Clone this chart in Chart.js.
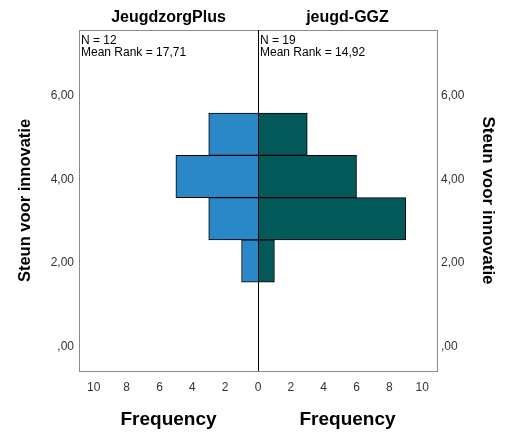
<!DOCTYPE html>
<html>
<head>
<meta charset="utf-8">
<script src="https://cdn.jsdelivr.net/npm/chart.js@4/dist/chart.umd.min.js"></script>
<style>
  html, body { margin: 0; padding: 0; background: #fff; }
  .wrap { position: relative; width: 509px; height: 439px; overflow: hidden; }
  canvas { position: absolute; top: 0; }
</style>
</head>
<body>
<div class="wrap">
  <canvas id="left" width="266" height="439" style="left:0"></canvas>
  <canvas id="right" width="261" height="439" style="left:248px"></canvas>
</div>
<script>
// histogram bins (Steun voor innovatie), bin centres
const binCenters = [2.05, 3.06, 4.07, 5.08];
const jeugdzorgPlusCounts = [1, 3, 5, 3];
const jeugdGgzCounts = [1, 9, 6, 3];

const groupNames = ['JeugdzorgPlus', 'jeugd-GGZ'];
const groupN = [12, 19];
const meanRanks = ['17,71', '14,92'];

const freqTicks = [0, 2, 4, 6, 8, 10];
const yTicks = [0, 2, 4, 6];
const yTickLabels = [',00', '2,00', '4,00', '6,00'];

const BLUE = '#2a87c8';
const TEAL = '#04595a';
const FONT = "'Liberation Sans', Arial, sans-serif";

Chart.defaults.font.family = FONT;
Chart.defaults.color = '#222';

function panelPlugin(side, idx) {
  return {
    id: 'panel' + side,
    afterDatasetsDraw(chart) {
      const {ctx, chartArea: a} = chart;
      ctx.save();
      ctx.strokeStyle = '#8a8a8a';
      ctx.lineWidth = 1;
      ctx.strokeRect(Math.round(a.left) + 0.5, Math.round(a.top) + 0.5,
        Math.round(a.right - a.left), Math.round(a.bottom - a.top));
      // centre line
      const cx = side === 'left' ? Math.round(a.right) + 0.5 : Math.round(a.left) + 0.5;
      ctx.strokeStyle = '#000';
      ctx.beginPath();
      ctx.moveTo(cx, a.top);
      ctx.lineTo(cx, a.bottom);
      ctx.stroke();
      // N / mean rank
      ctx.fillStyle = '#000';
      ctx.font = '12px ' + FONT;
      ctx.textBaseline = 'alphabetic';
      ctx.textAlign = 'left';
      ctx.fillText('N = ' + groupN[idx], a.left + 2, a.top + 14);
      ctx.fillText('Mean Rank = ' + meanRanks[idx], a.left + 2, a.top + 26);
      ctx.restore();
    }
  };
}

function makeChart(id, side, idx, counts, color) {
  const isLeft = side === 'left';
  const yTitleSize = isLeft ? 16.5 : 17;
  return new Chart(document.getElementById(id), {
    type: 'bar',
    data: {
      datasets: [{
        data: counts.map((c, i) => ({x: c, y: binCenters[i]})),
        backgroundColor: color,
        borderColor: '#000',
        borderWidth: 1,
        barPercentage: 1,
        categoryPercentage: 1
      }]
    },
    options: {
      indexAxis: 'y',
      responsive: false,
      animation: false,
      events: [],
      layout: { padding: isLeft ? {left: 0, right: 8, top: 0, bottom: 0} : {left: 10, right: 0, top: 0, bottom: 0} },
      plugins: { legend: { display: false }, tooltip: { enabled: false }, title: { display: false } },
      scales: {
        x: {
          type: 'linear',
          position: 'bottom',
          min: 0,
          max: 10.9,
          reverse: isLeft,
          grid: { display: false, drawTicks: false },
          border: { display: false },
          afterBuildTicks: s => { s.ticks = freqTicks.map(v => ({value: v})); },
          afterFit: s => { s.height = 68; },
          ticks: {
            padding: 9,
            color: '#333',
            font: { size: 12 },
            callback: v => (!isLeft && v === 0) ? '' : String(v)
          },
          title: {
            display: true,
            text: 'Frequency',
            color: '#000',
            font: { size: 19, weight: 'bold' },
            padding: { top: 0, bottom: 7.6 }
          }
        },
        xTop: {
          type: 'linear',
          position: 'top',
          min: 0,
          max: 1,
          grid: { display: false, drawTicks: false },
          border: { display: false },
          ticks: { display: false },
          afterFit: s => { s.height = 30; },
          title: {
            display: true,
            text: groupNames[idx],
            color: '#000',
            font: { size: 16, weight: 'bold' },
            padding: { top: 8.4, bottom: 2.4 }
          }
        },
        y: {
          type: 'linear',
          position: isLeft ? 'left' : 'right',
          offset: false,
          min: -0.58,
          max: 7.57,
          grid: { display: false, drawTicks: false, offset: false },
          border: { display: false },
          afterBuildTicks: s => { s.ticks = yTicks.map(v => ({value: v})); },
          afterFit: s => { s.width = isLeft ? 79 : 72; },
          ticks: {
            padding: isLeft ? 5 : 4,
            color: '#333',
            font: { size: 12 },
            callback: v => yTickLabels[yTicks.indexOf(v)]
          },
          title: {
            display: true,
            text: 'Steun voor innovatie',
            color: '#000',
            font: { size: yTitleSize, weight: 'bold' },
            padding: { top: (isLeft ? 25 : 21) - yTitleSize * 0.6, bottom: 0 }
          }
        }
      }
    },
    plugins: [panelPlugin(side, idx)]
  });
}

makeChart('left', 'left', 0, jeugdzorgPlusCounts, BLUE);
makeChart('right', 'right', 1, jeugdGgzCounts, TEAL);
</script>
</body>
</html>
